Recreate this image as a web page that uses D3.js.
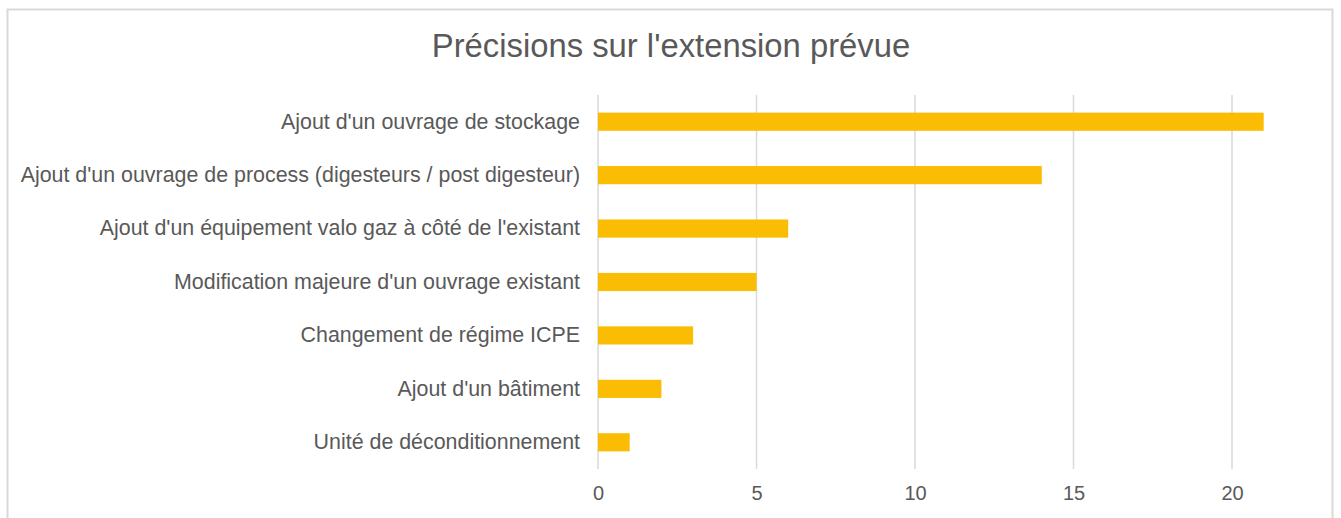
<!DOCTYPE html>
<html>
<head>
<meta charset="utf-8">
<script src="https://cdn.jsdelivr.net/npm/d3@7"></script>
<style>
  body { margin: 0; background: #fff; overflow: hidden; }
  svg { display: block; }
  text { font-family: "Liberation Sans", Arial, sans-serif; fill: #595959; }
</style>
</head>
<body>
<svg></svg>
<script>
const categories = [
  "Ajout d'un ouvrage de stockage",
  "Ajout d'un ouvrage de process (digesteurs / post digesteur)",
  "Ajout d'un équipement valo gaz à côté de l'existant",
  "Modification majeure d'un ouvrage existant",
  "Changement de régime ICPE",
  "Ajout d'un bâtiment",
  "Unité de déconditionnement"
];
const values = [21, 14, 6, 5, 3, 2, 1];
const tickValues = [0, 5, 10, 15, 20];

const w = 1341, h = 518;
const margin = { top: 95, left: 598, bottom: 49 };
const innerHeight = h - margin.top - margin.bottom;

const svg = d3.select("svg").attr("width", w).attr("height", h);

// chart frame (bottom edge falls outside the picture)
svg.append("path")
  .attr("d", `M7.5,${h} V9.5 H1332.5 V${h}`)
  .attr("fill", "none")
  .attr("stroke", "#d9d9d9")
  .attr("stroke-width", 2);

svg.append("text")
  .attr("x", 671).attr("y", 57)
  .attr("text-anchor", "middle")
  .style("font-size", "32.8px")
  .text("Précisions sur l'extension prévue");

const g = svg.append("g")
  .attr("transform", `translate(${margin.left}, ${margin.top})`);

let xScale = d3.scaleLinear()
  .domain([0, 20])
  .range([0, 634]);

let yScale = d3.scaleBand()
  .domain(categories)
  .range([0, innerHeight])
  .paddingInner(0.66)
  .paddingOuter(0.33);

// gridlines
g.selectAll(".grid")
  .data(tickValues)
  .enter()
  .append("line")
  .attr("x1", d => xScale(d)).attr("x2", d => xScale(d))
  .attr("y1", 0).attr("y2", innerHeight)
  .attr("stroke", "#d9d9d9")
  .attr("stroke-width", 1.5);

g.selectAll("rect")
  .data(values)
  .enter()
  .append("rect")
  .attr("x", xScale(0))
  .attr("y", (d, i) => yScale(categories[i]))
  .attr("height", yScale.bandwidth())
  .attr("width", d => xScale(d) - xScale(0))
  .attr("fill", "#fbbc04");

// x axis labels
const xAxis = g.append("g")
  .attr("transform", `translate(0, ${innerHeight})`)
  .call(d3.axisBottom(xScale).tickValues(tickValues).tickSize(0).tickPadding(17));
xAxis.select(".domain").remove();
xAxis.selectAll("text").style("font-size", "20px").attr("fill", "#595959");

// y axis labels
const yAxis = g.append("g")
  .call(d3.axisLeft(yScale).tickSize(0).tickPadding(18));
yAxis.select(".domain").remove();
yAxis.selectAll("text").style("font-size", "21.4px").attr("fill", "#595959");
</script>
</body>
</html>
